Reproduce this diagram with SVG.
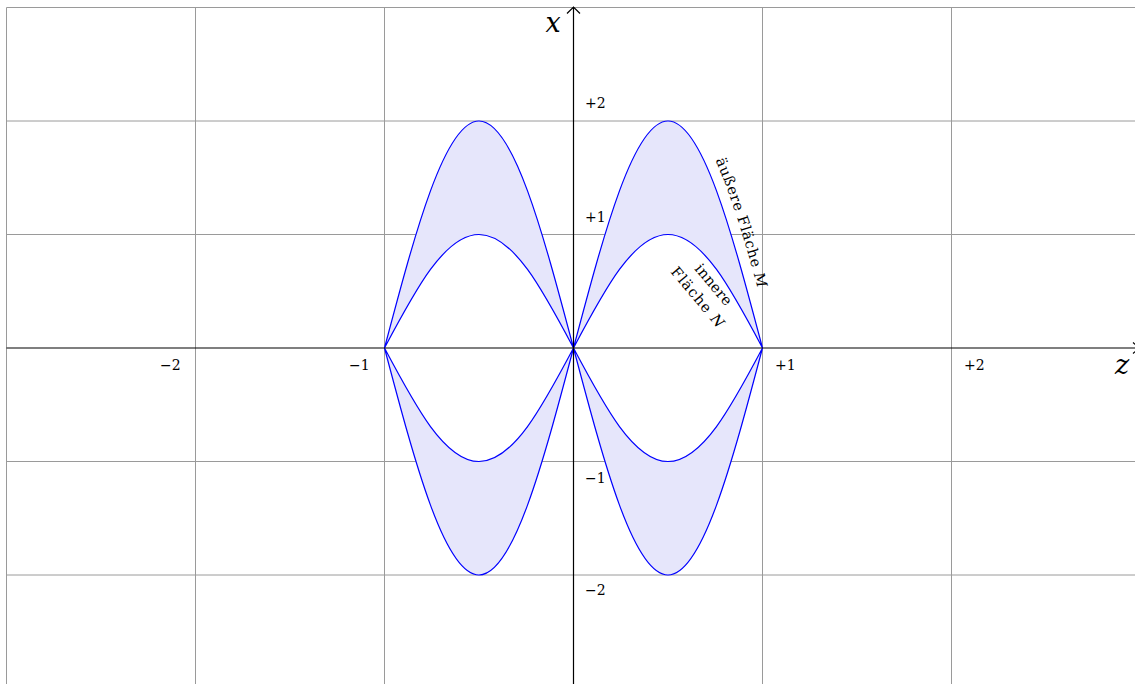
<svg xmlns="http://www.w3.org/2000/svg" width="1135" height="684" viewBox="0 0 1135 684">
<style>
.grid{stroke:#9a9a9a;stroke-width:1;fill:none}
.axis{stroke:#000;stroke-width:1.2;fill:none}
.lobe{fill:#e6e6fb;stroke:#0000ff;stroke-width:1.2}
.tick{font-family:"DejaVu Serif",serif;font-size:14px;fill:#000}
.lab{font-family:"DejaVu Serif",serif;font-style:italic;font-size:27px;fill:#000}
.curvelab{font-family:"DejaVu Serif",serif;font-size:14.5px;fill:#000}
</style>
<defs>
<path id="outerPath" d="M715.6,160.1 L727.3,189 L738.8,223.2 L750.3,261.5 L761.7,302.8"/>
</defs>
<rect width="1135" height="684" fill="#fff"/>
<g id="grid">
<path class="grid" d="M6.5,7.5V684 M195.5,7.5V684 M384.5,7.5V684 M762.5,7.5V684 M951.5,7.5V684 M6.5,7.5H1135 M6.5,121H1135 M6.5,234.5H1135 M6.5,461.5H1135 M6.5,575H1135"/>
</g>
<g id="lobes">
<path id="lobe-right-top" class="lobe" d="M573.5,348 C604.3,231.7 633.8,121 668,121 C702.2,121 731.7,231.7 762.5,348 C731.7,289.9 702.2,234.5 668,234.5 C633.8,234.5 604.3,289.9 573.5,348 Z"/>
<path id="lobe-left-top" class="lobe" d="M384.5,348 C415.3,231.7 444.8,121 479,121 C513.2,121 542.7,231.7 573.5,348 C542.7,289.9 513.2,234.5 479,234.5 C444.8,234.5 415.3,289.9 384.5,348 Z"/>
<path id="lobe-right-bottom" class="lobe" d="M573.5,348 C604.3,464.3 633.8,575 668,575 C702.2,575 731.7,464.3 762.5,348 C731.7,406.1 702.2,461.5 668,461.5 C633.8,461.5 604.3,406.1 573.5,348 Z"/>
<path id="lobe-left-bottom" class="lobe" d="M384.5,348 C415.3,464.3 444.8,575 479,575 C513.2,575 542.7,464.3 573.5,348 C542.7,406.1 513.2,461.5 479,461.5 C444.8,461.5 415.3,406.1 384.5,348 Z"/>
</g>
<g id="axes">
<path class="axis" d="M6.5,348H1139 M1133,342.5 L1139.5,348 L1133,353.5"/>
<path class="axis" d="M573.5,684V7 M567,13.5 L573.5,7 L580,13.5"/>
</g>
<g id="axis-labels">
<text class="lab" x="553" y="32" text-anchor="middle">x</text>
<text class="lab" x="1122" y="374" text-anchor="middle">z</text>
</g>
<g id="ticks">
<text class="tick" x="585" y="108">+2</text>
<text class="tick" x="585" y="222">+1</text>
<text class="tick" x="585" y="483">−1</text>
<text class="tick" x="585" y="595">−2</text>
<text class="tick" x="160" y="370">−2</text>
<text class="tick" x="349" y="370">−1</text>
<text class="tick" x="775" y="370">+1</text>
<text class="tick" x="964" y="370">+2</text>
</g>
<g id="curve-labels">
<text class="curvelab" textLength="135" lengthAdjust="spacing"><textPath href="#outerPath">äußere Fläche <tspan font-style="italic">M</tspan></textPath></text>
<text class="curvelab" transform="translate(694,269) rotate(50)" textLength="49" lengthAdjust="spacing">innere</text>
<text class="curvelab" transform="translate(670,272) rotate(50)" textLength="74" lengthAdjust="spacing">Fläche <tspan font-style="italic">N</tspan></text>
</g>
</svg>
